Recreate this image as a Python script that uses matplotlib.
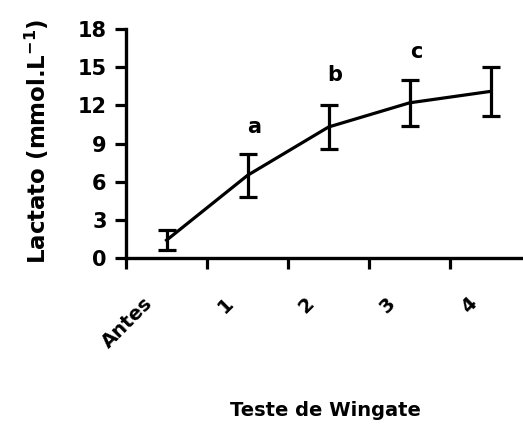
import matplotlib.pyplot as plt
import matplotlib.transforms as mtransforms

categories = ['Antes', '1', '2', '3', '4']
lactato = [1.4, 6.5, 10.3, 12.2, 13.1]
erro = [0.8, 1.7, 1.7, 1.8, 1.9]
letras = ['', 'a', 'b', 'c', '']
letra_y = [0, 10.3, 14.4, 16.2, 0]

plt.rcParams['font.family'] = ['DejaVu Sans']
plt.rcParams['font.weight'] = 'bold'

fig = plt.figure(figsize=(5.23, 4.40), dpi=100)
ax = fig.add_axes([0.241, 0.4136, 0.759, 0.5204])

x = list(range(len(categories)))
ax.errorbar(x, lactato, yerr=erro, color='black', lw=2.3, elinewidth=2.3,
            capsize=6.5, capthick=2.3)

for i, t in enumerate(letras):
    if t:
        ax.text(x[i] + 0.08, letra_y[i], t, ha='center', va='center',
                fontsize=15, fontweight='bold')

ax.set_xlim(-0.5, 4.4)
ax.set_ylim(0, 18)
ax.set_yticks(range(0, 19, 3))

ax.set_xticks([-0.5, 0.5, 1.5, 2.5, 3.5])
ax.set_xticklabels([])
ax.set_xticks(x, minor=True)
ax.set_xticklabels(categories, minor=True, rotation=45, ha='right',
                   rotation_mode='anchor', fontsize=14, fontweight='bold')
ax.tick_params(axis='x', which='minor', length=0, pad=26)
ax.tick_params(axis='x', which='major', length=8, width=2.3, direction='out')
ax.tick_params(axis='y', length=8, width=2.3, direction='out', labelsize=15, pad=6)
for lab in ax.get_yticklabels():
    lab.set_fontweight('bold')

offset = mtransforms.ScaledTranslation(-24 / 100, 0, fig.dpi_scale_trans)
for lab in ax.get_xticklabels(minor=True):
    lab.set_transform(lab.get_transform() + offset)

for s in ['top', 'right']:
    ax.spines[s].set_visible(False)
for s in ['left', 'bottom']:
    ax.spines[s].set_linewidth(2.4)

ax.set_ylabel('Lactato (mmol.L$^{\\mathbf{-1}}$)', fontsize=16.5, fontweight='bold')
ax.yaxis.set_label_coords(-0.19, 0.51)
fig.text(0.623, 0.068, 'Teste de Wingate', ha='center', va='center',
         fontsize=14, fontweight='bold')

fig.savefig('out.png', dpi=100)
